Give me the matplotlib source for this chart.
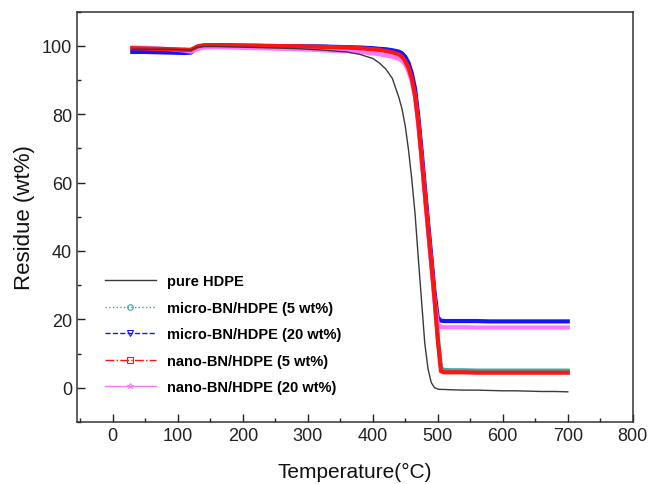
import matplotlib
matplotlib.use("Agg")
import matplotlib.pyplot as plt
from matplotlib.lines import Line2D
from matplotlib.ticker import MultipleLocator

plt.rcParams["font.family"] = ["Liberation Sans", "DejaVu Sans"]

# temperature grid (deg C), shared by all TGA curves
temp = [30, 50, 70, 90, 110, 120, 130, 140, 160, 180, 200, 220, 240, 260,
        280, 300, 320, 340, 360, 380, 400, 410, 420, 430, 440, 445, 450, 455,
        460, 465, 470, 475, 480, 485, 490, 495, 500, 505, 510, 520, 540, 560,
        580, 600, 620, 640, 660, 680, 700]

pure_hdpe = [99.0, 99.0, 99.0, 99.0, 98.8, 98.7, 99.6, 99.8, 99.8, 99.7,
             99.6, 99.5, 99.4, 99.3, 99.2, 99.0, 98.8, 98.5, 98.2, 97.5,
             96.3, 95.0, 93.2, 90.5, 85.0, 81.5, 76.5, 69.5, 61.0, 51.0,
             38.0, 25.5, 13.0, 5.5, 1.5, 0.0, -0.4, -0.5, -0.5, -0.6,
             -0.7, -0.7, -0.8, -0.9, -0.9, -1.0, -1.1, -1.1, -1.2]

micro_5 = [99.2, 99.2, 99.1, 99.0, 98.9, 98.8, 99.7, 100.0, 100.1, 100.1,
           100.0, 100.0, 99.9, 99.9, 99.8, 99.8, 99.7, 99.6, 99.5, 99.3,
           99.1, 98.9, 98.6, 98.2, 97.6, 97.0, 95.8, 93.8, 91.0, 86.0,
           78.0, 68.0, 57.5, 47.0, 37.0, 26.5, 15.0, 5.6, 5.2, 5.1,
           5.1, 5.0, 5.0, 5.0, 5.0, 5.0, 5.0, 5.0, 5.0]

micro_20 = [98.2, 98.2, 98.1, 98.0, 97.9, 98.0, 99.5, 99.9, 100.0, 100.0,
            100.0, 100.0, 99.9, 99.9, 99.9, 99.8, 99.8, 99.7, 99.6, 99.5,
            99.3, 99.1, 99.0, 98.7, 98.3, 97.8, 96.8, 95.0, 92.0, 87.5,
            79.5, 69.5, 59.0, 48.5, 38.5, 28.0, 20.5, 19.6, 19.5, 19.5,
            19.5, 19.5, 19.4, 19.4, 19.4, 19.4, 19.4, 19.4, 19.4]

nano_5 = [99.3, 99.2, 99.1, 99.0, 98.8, 98.8, 99.8, 100.2, 100.2, 100.2,
          100.1, 100.0, 100.0, 99.9, 99.9, 99.8, 99.7, 99.6, 99.5, 99.3,
          99.0, 98.8, 98.5, 98.1, 97.5, 96.8, 95.5, 93.5, 90.5, 85.5,
          77.5, 67.5, 57.0, 46.5, 36.5, 26.0, 14.0, 4.8, 4.5, 4.5,
          4.5, 4.4, 4.4, 4.4, 4.4, 4.4, 4.4, 4.4, 4.4]

nano_20 = [99.5, 99.4, 99.2, 99.0, 98.6, 98.3, 99.0, 99.5, 99.6, 99.5,
           99.4, 99.3, 99.2, 99.1, 99.0, 98.9, 98.7, 98.5, 98.4, 98.2,
           97.8, 97.5, 97.2, 96.8, 96.2, 95.6, 94.5, 92.5, 89.5, 85.0,
           77.0, 67.0, 56.5, 46.0, 36.0, 25.5, 18.6, 17.8, 17.7, 17.7,
           17.7, 17.6, 17.6, 17.6, 17.6, 17.6, 17.6, 17.6, 17.6]

labels = ["pure HDPE", "micro-BN/HDPE (5 wt%)", "micro-BN/HDPE (20 wt%)",
          "nano-BN/HDPE (5 wt%)", "nano-BN/HDPE (20 wt%)"]

fig = plt.figure(figsize=(6.53, 4.85), dpi=100)
ax = fig.add_axes([0.118, 0.128, 0.851, 0.846])

ax.plot(temp, pure_hdpe, color="#3a3a3a", lw=1.0, zorder=5)
# composites: dense symbols in the original read as a thick band
series = [(micro_5, "#3aa89c"), (micro_20, "#1414ff"),
          (nano_20, "#ff78ff"), (nano_5, "#ff1414")]
for vals, col in series:
    ax.plot(temp, vals, color=col, lw=3.0, solid_joinstyle="round", zorder=3)

# legend proxies in the original line/marker styles
handles = [Line2D([], [], color="#3a3a3a", lw=1.0)]
leg_styles = [("#3aa89c", ":", "o"), ("#1414ff", "--", "v"),
              ("#ff1414", "-.", "s"), ("#ff78ff", "-", "*")]
for col, ls, mk in leg_styles:
    handles.append(Line2D([], [], color=col, lw=1.0, ls=ls, marker=mk,
                          ms=4, mfc="none", mec=col, mew=0.8))
ax.legend(handles, labels, loc="upper left", bbox_to_anchor=(0.05, 0.36),
          frameon=False, borderpad=0, borderaxespad=0, handlelength=3.5,
          handletextpad=0.75, labelspacing=0.86, numpoints=1,
          prop={"size": 10.5, "weight": "bold"})

ax.set_xlim(-55, 800)
ax.set_ylim(-10, 110)
ax.xaxis.set_major_locator(MultipleLocator(100))
ax.xaxis.set_minor_locator(MultipleLocator(50))
ax.yaxis.set_major_locator(MultipleLocator(20))
ax.yaxis.set_minor_locator(MultipleLocator(10))
ax.tick_params(which="both", direction="in", top=False, right=False,
               labelsize=13, colors="#222222", width=1.0)
ax.tick_params(which="major", length=6)
ax.tick_params(which="minor", length=3)
for s in ax.spines.values():
    s.set_linewidth(1.1)
    s.set_color("#333333")

ax.set_xlabel("Temperature(\u00b0C)", fontsize=15, color="#111111",
              labelpad=13)
ax.set_ylabel("Residue (wt%)", fontsize=16, color="#111111", labelpad=5)

fig.savefig("out.png", dpi=100)
